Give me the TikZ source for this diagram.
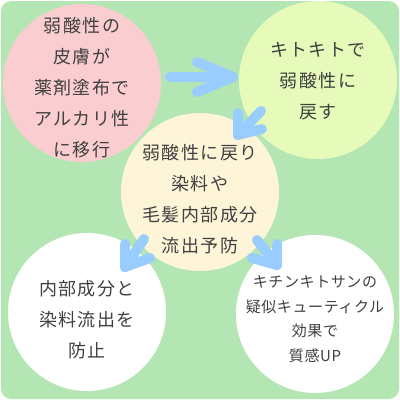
\documentclass[tikz,border=0pt]{standalone}
\usepackage{fontspec}
\setmainfont{Noto Sans CJK JP}
\usepackage{tikz}
\definecolor{bggreen}{RGB}{180,230,180}
\definecolor{bubblepink}{RGB}{250,205,208}
\definecolor{bubblelime}{RGB}{230,250,186}
\definecolor{bubblecream}{RGB}{254,245,216}
\definecolor{flowblue}{RGB}{153,204,255}
\definecolor{textgray}{RGB}{64,64,64}

\begin{document}
\begin{tikzpicture}[x=1pt,y=-1pt]
\tikzset{bubble/.style={circle,inner sep=0pt,minimum size=158pt},
  words/.style={align=center,text=textgray,inner sep=0pt,
  font=\fontsize{18}{31}\selectfont\addfontfeature{LetterSpace=8}},
  small/.style={font=\fontsize{15}{24.5}\selectfont\addfontfeature{LetterSpace=4}},
  flow/.style={line width=10pt,flowblue,line cap=round,line join=round}}
\useasboundingbox (0,0) rectangle (400,400);
\fill[bggreen,rounded corners=10pt] (1,1) rectangle (399,399);

\node (1) at (82,83) [bubble,fill=bubblepink] {};
\node (2) at (318,80) [bubble,fill=bubblelime] {};
\node (3) at (200,192) [bubble,fill=bubblecream] {};
\node (4) at (87,312) [bubble,fill=white] {};
\node (5) at (315,314) [bubble,fill=white] {};

\node (1t) at ([yshift=-5pt]1.center) [words] {弱酸性の\\皮膚が\\薬剤塗布で\\アルカリ性\\に移行};
\node (2t) at ([yshift=-1pt]2.center) [words] {キトキトで\\弱酸性に\\戻す};
\node (3t) at ([yshift=-7pt]3.center) [words] {弱酸性に戻り\\染料や\\毛髪内部成分\\流出予防};
\node (4t) at ([yshift=-8pt]4.center) [words] {内部成分と\\染料流出を\\防止};
\node (5t) at ([yshift=-5pt]5.center) [words,small] {キチンキトサンの\\疑似キューティクル\\効果で\\質感UP};

% arrows
\coordinate (s1) at (170,77);  \coordinate (t1) at (233,77);
\coordinate (u1) at (197,62);  \coordinate (l1) at (197,92);
\coordinate (s2) at (261,111); \coordinate (t2) at (238,135);
\coordinate (u2) at (238,113); \coordinate (l2) at (262,129);
\coordinate (s3) at (144,239); \coordinate (t3) at (125,267);
\coordinate (u3) at (125,244); \coordinate (l3) at (150,258);
\coordinate (s4) at (257,240); \coordinate (t4) at (277,265);
\coordinate (u4) at (277,244); \coordinate (l4) at (252,258);

\path
(s1) edge [flow] (t1) (u1) edge [flow] (t1) (t1) edge [flow] (l1)
(s2) edge [flow] (t2) (u2) edge [flow] (t2) (t2) edge [flow] (l2)
(s3) edge [flow] (t3) (u3) edge [flow] (t3) (t3) edge [flow] (l3)
(s4) edge [flow] (t4) (u4) edge [flow] (t4) (t4) edge [flow] (l4);
\end{tikzpicture}
\end{document}
